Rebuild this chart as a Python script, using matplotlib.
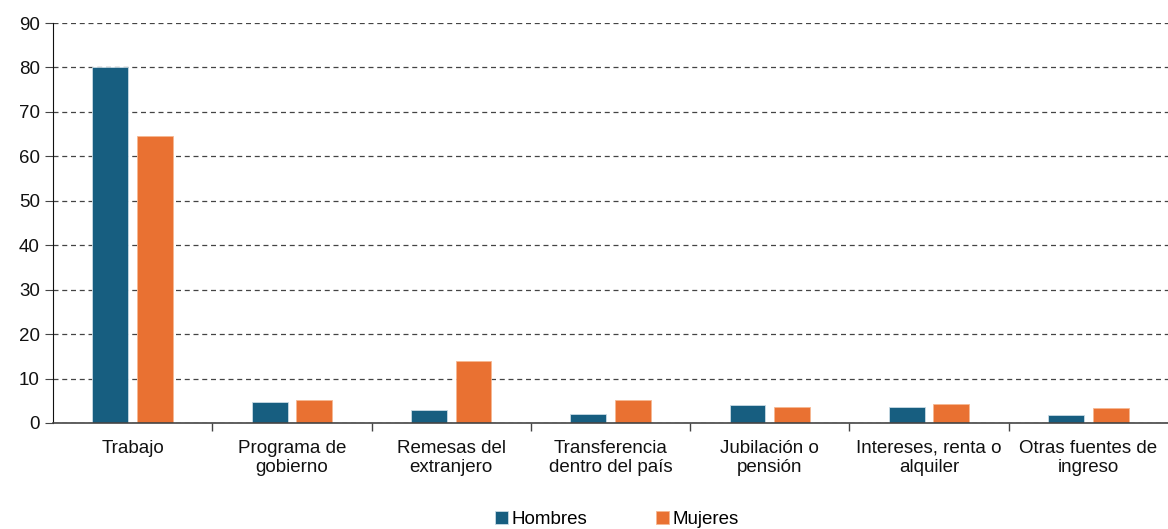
import numpy as np
import matplotlib.pyplot as plt
from matplotlib.ticker import FixedLocator

plt.rcParams["font.family"] = ["Liberation Sans", "DejaVu Sans"]

categories = [
    "Trabajo",
    "Programa de\ngobierno",
    "Remesas del\nextranjero",
    "Transferencia\ndentro del país",
    "Jubilación o\npensión",
    "Intereses, renta o\nalquiler",
    "Otras fuentes de\ningreso",
]
hombres = [80.1, 4.7, 3.0, 2.0, 4.0, 3.7, 1.8]
mujeres = [64.6, 5.1, 13.9, 5.1, 3.5, 4.2, 3.4]

COLOR_H = "#175E80"
COLOR_M = "#E97132"
FS = 13.5

fig = plt.figure(figsize=(11.68, 5.29), dpi=100)
ax = fig.add_axes([0.0454, 0.2004, 0.9546, 0.7561])

x = np.arange(len(categories))
width = 0.225
off = 0.14

ax.bar(x - off, hombres, width, color=COLOR_H, label="Hombres",
       edgecolor="#c9dbe5", linewidth=0.6)
ax.bar(x + off, mujeres, width, color=COLOR_M, label="Mujeres",
       edgecolor="#f6b892", linewidth=0.6)

ax.set_xlim(-0.5, len(categories) - 0.5)
ax.set_ylim(0, 90)
ax.set_yticks(range(0, 91, 10))
ax.yaxis.grid(True, linestyle=(0, (4, 3)), color="#444444", linewidth=0.9)
ax.set_axisbelow(True)

ax.set_xticks(x)
ax.set_xticklabels(categories, fontsize=FS, color="#111111", linespacing=1.15)
ax.tick_params(axis="x", which="major", length=0, pad=12)
ax.xaxis.set_minor_locator(FixedLocator(np.arange(0.5, len(categories) - 0.5, 1)))
ax.tick_params(axis="x", which="minor", length=6, color="#444444", width=1)
ax.tick_params(axis="y", labelsize=FS, length=6, color="#444444", labelcolor="#111111")

for s in ["top", "right"]:
    ax.spines[s].set_visible(False)
ax.spines["left"].set_color("#111111")
ax.spines["bottom"].set_color("#444444")
ax.spines["bottom"].set_linewidth(1.2)

fig.legend(loc="lower center", bbox_to_anchor=(0.528, -0.03), ncol=2,
           frameon=False, fontsize=FS, handlelength=0.7, handleheight=0.7,
           handletextpad=0.15, columnspacing=3.7)

fig.savefig("out.png", dpi=100)
